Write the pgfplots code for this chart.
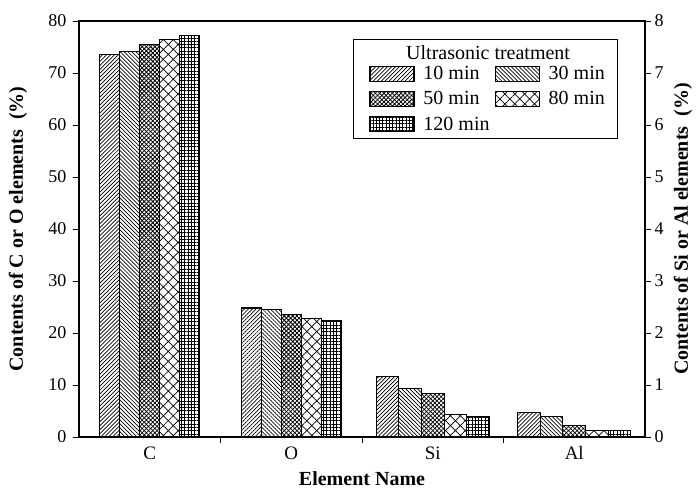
\documentclass[border=0pt]{standalone}
\usepackage{fontspec}
\setmainfont{Liberation Serif}
\usepackage{pgfplots}
\pgfplotsset{compat=1.18}
\usetikzlibrary{patterns.meta,fit}

\pgfplotsset{
  p1/.style={draw=black, line width=1.1bp, fill=white, postaction={pattern={Lines[angle=45,distance=2.8bp,line width=0.7bp]}}},
  p2/.style={draw=black, line width=1.1bp, fill=white, postaction={pattern={Lines[angle=-45,distance=2.8bp,line width=0.7bp]}}},
  p3/.style={draw=black, line width=1.1bp, fill=white, postaction={pattern={Hatch[angle=45,distance=3bp,line width=0.8bp]}}},
  p4/.style={draw=black, line width=1.1bp, fill=white, postaction={pattern={Hatch[angle=45,distance=7bp,line width=0.7bp]}}},
  p5/.style={draw=black, line width=1.1bp, fill=white, postaction={pattern={Hatch[angle=0,distance=3.3bp,line width=0.7bp]}}},
  common/.style={
    scale only axis, width=566bp, height=416bp,
    xmin=0.5, xmax=4.5,
    ybar,
    tick align=outside,
    major tick length=6bp, minor tick length=6bp,
    every tick/.style={black, line width=1bp},
    axis line style={line width=1.2bp},
    /pgf/number format/assume math mode=true,
    ticklabel style={font=\fontsize{18bp}{21bp}\selectfont},
    label style={font=\fontsize{20bp}{23bp}\selectfont\bfseries},
  },
}

\begin{document}
\begin{tikzpicture}
\useasboundingbox (-79bp,-53bp) rectangle (620bp,437bp);
\begin{axis}[
  common,
  ymin=0, ymax=80,
  bar width=0.141,
  xtick={1,2,3,4}, xticklabels={C,O,Si,Al},
  xticklabel style={font=\fontsize{19bp}{22bp}\selectfont},
  minor xtick={1.5,2.5,3.5},
  major x tick style={draw=none},
  xtick pos=left, ytick pos=left,
  ytick={0,10,...,80},
  yticklabel style={xshift=-3bp},
  xlabel={Element Name},
  xlabel style={at={(rel axis cs:0.5,-0.1)}, anchor=center},
  ylabel={Contents of C or O elements\ \ (\%)},
  ylabel style={at={(rel axis cs:-0.108,0.5)}, anchor=center},
  legend columns=2,
  legend image code/.code={\draw[#1] (0bp,-7.5bp) rectangle (44bp,7.5bp); \path (0bp,0bp) (51bp,0bp);},
  legend style={name=leg, draw=none, fill=none, inner sep=0pt,
    at={(rel axis cs:1,1)}, anchor=north east, xshift=-38bp, yshift=-43bp,
    font=\fontsize{20bp}{23bp}\selectfont,
    row sep=6.5bp,
    /tikz/every even column/.append style={column sep=3bp}},
  legend cell align=left,
]
\addplot[p1, bar shift=-0.282] coordinates {(1,73.5) (2,24.8)};
\addlegendentry{10 min}
\addplot[p2, bar shift=-0.141] coordinates {(1,74.1) (2,24.5)};
\addlegendentry{30 min}
\addplot[p3, bar shift=0] coordinates {(1,75.4) (2,23.5)};
\addlegendentry{50 min}
\addplot[p4, bar shift=0.141] coordinates {(1,76.5) (2,22.8)};
\addlegendentry{80 min}
\addplot[p5, bar shift=0.282] coordinates {(1,77.2) (2,22.3)};
\addlegendentry{120 min}
\end{axis}

\begin{axis}[
  common,
  ymin=0, ymax=8,
  bar width=0.16,
  axis x line=none, axis y line*=right,
  ytick={0,1,...,8},
  ylabel={Contents of Si or Al elements\ \ (\%)},
  ylabel style={at={(rel axis cs:1.067,0.5)}, anchor=center},
]
\addplot[p1, bar shift=-0.32] coordinates {(3,1.16) (4,0.47)};
\addplot[p2, bar shift=-0.16] coordinates {(3,0.94) (4,0.39)};
\addplot[p3, bar shift=0] coordinates {(3,0.83) (4,0.22)};
\addplot[p4, bar shift=0.16] coordinates {(3,0.43) (4,0.12)};
\addplot[p5, bar shift=0.32] coordinates {(3,0.40) (4,0.12)};
\end{axis}

\node[anchor=south, font=\fontsize{20bp}{23bp}\selectfont, inner sep=1bp] (ttl) at ([yshift=3bp]leg.north) {Ultrasonic treatment};
\node[draw, line width=1bp, fit=(leg)(ttl), inner xsep=13bp, inner ysep=5bp, xshift=-3bp] {};
\end{tikzpicture}
\end{document}
